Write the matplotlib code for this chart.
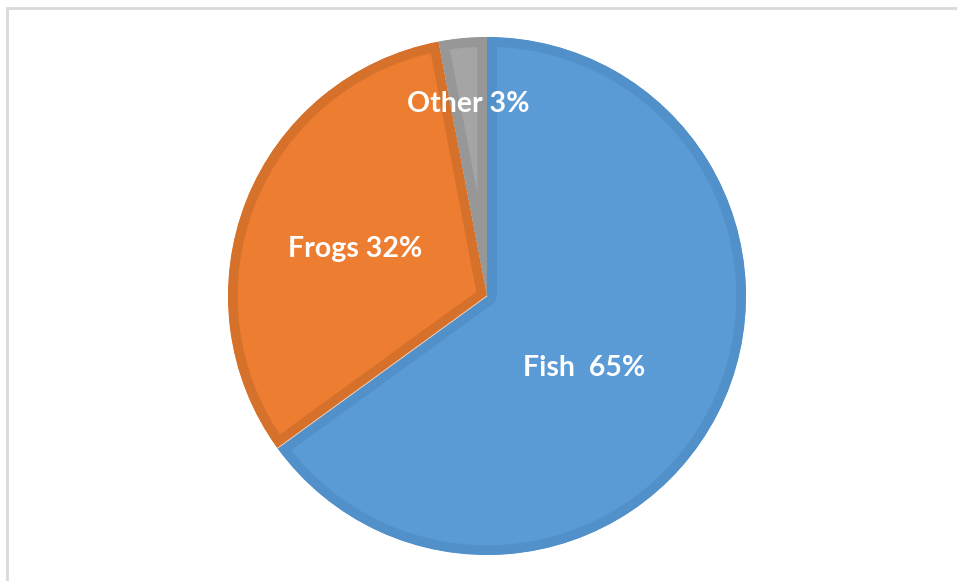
import numpy as np
import matplotlib.pyplot as plt
from matplotlib.patches import Rectangle

labels = ['Fish  65%', 'Frogs 32%', 'Other 3%']
values = [65, 32, 3]
colors = ['#5b9bd5', '#ed7d31', '#a5a5a5']
edges = ['#5190c9', '#d6712c', '#979797']
label_pos = [(0.375, -0.278), (-0.51, 0.181), (-0.073, 0.741)]

W, H = 957, 581
fig = plt.figure(figsize=(W / 100, H / 100), dpi=100)
fig.patches.append(Rectangle((7 / W, -0.1), 1.2, 1 - 8 / H + 0.1, transform=fig.transFigure,
                             fill=False, edgecolor='#d9d9d9', lw=2))

cx, cy, r = 487, 296, 259
ax = fig.add_axes([(cx - r) / W, (H - cy - r) / H, 2 * r / W, 2 * r / H])

wedges, _ = ax.pie(values, colors=colors, startangle=90, counterclock=False,
                   wedgeprops=dict(lw=0))
for w, ec in zip(wedges, edges):
    w.set_edgecolor(ec)
    w.set_linewidth(14)
    w.set_joinstyle('round')
    w.set_clip_on(True)
    w.set_clip_path(w)

# thin light seam between fish and frogs
a = np.deg2rad(wedges[0].theta1)
ax.plot([0, np.cos(a)], [0, np.sin(a)], color='#f3dccb', lw=0.6)

for txt, (x, y) in zip(labels, label_pos):
    ax.text(x, y, txt, ha='center', va='center', color='white',
            fontsize=20.5, fontweight='bold', family='Lato')

ax.set_xlim(-1, 1)
ax.set_ylim(-1, 1)
ax.set_aspect('equal')
ax.axis('off')

fig.savefig('out.png', dpi=100)
